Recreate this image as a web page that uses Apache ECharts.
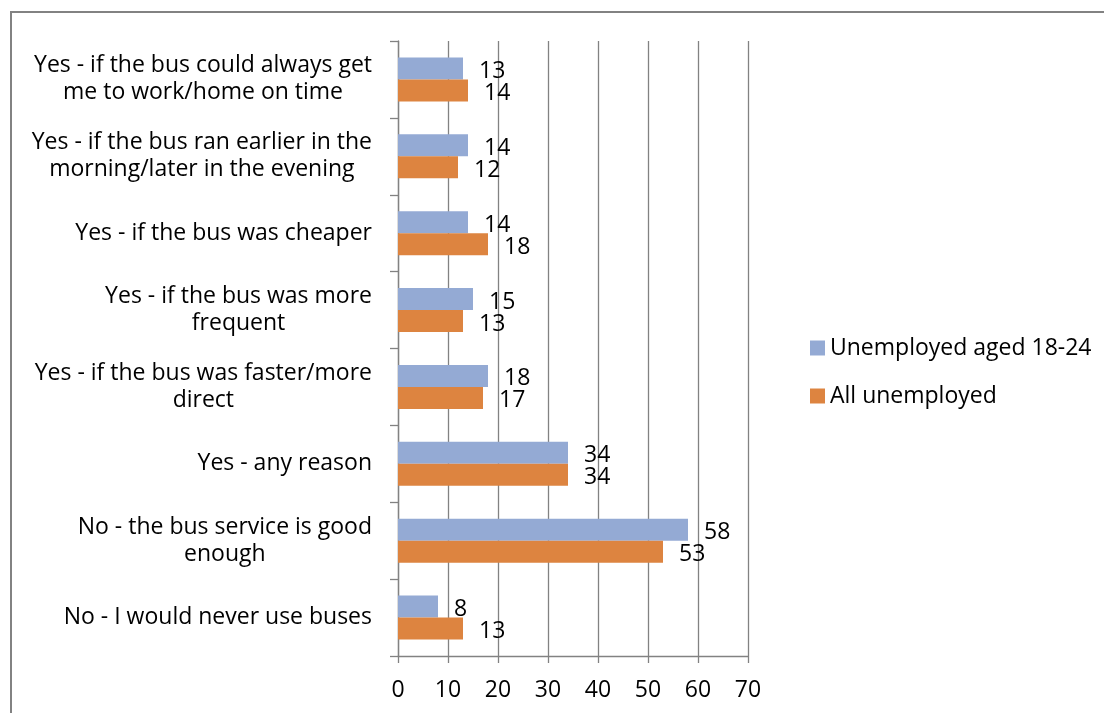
<!DOCTYPE html>
<html>
<head>
<meta charset="utf-8">
<title>Would you use the bus more?</title>
<script src="https://cdn.jsdelivr.net/npm/echarts@6/dist/echarts.min.js"></script>
<style>
  html, body { margin: 0; padding: 0; background: #fff; }
  #chart { width: 1104px; height: 713px; }
</style>
</head>
<body>
<div id="chart"></div>
<script>
// Answer options, listed top to bottom
const categories = [
  'Yes - if the bus could always get\nme to work/home on time',
  'Yes - if the bus ran earlier in the\nmorning/later in the evening',
  'Yes - if the bus was cheaper',
  'Yes - if the bus was more\nfrequent',
  'Yes - if the bus was faster/more\ndirect',
  'Yes - any reason',
  'No - the bus service is good\nenough',
  'No - I would never use buses'
];

const seriesNames = ['Unemployed aged 18-24', 'All unemployed'];

// Percent of respondents
const youngUnemployed = [13, 14, 14, 15, 18, 34, 58, 8];
const allUnemployed = [14, 12, 18, 13, 17, 34, 53, 13];

const xTicks = [0, 10, 20, 30, 40, 50, 60, 70];

const FONT = "'Open Sans', 'Noto Sans', sans-serif";
const GREY = '#828282';
const BLUE = '#94AAD4';
const ORANGE = '#DD8440';

const chart = echarts.init(document.getElementById('chart'));

const labelStyle = {
  show: true,
  position: 'right',
  distance: 16,
  offset: [0, 3],
  color: '#000',
  fontFamily: FONT,
  fontSize: 23
};

chart.setOption({
  animation: false,
  backgroundColor: '#fff',
  textStyle: { fontFamily: FONT },
  graphic: [{
    type: 'rect',
    shape: { x: 11, y: 12, width: 1120, height: 730 },
    style: { fill: 'none', stroke: GREY, lineWidth: 2 },
    silent: true
  }],
  grid: { left: 398, right: 356, top: 41, bottom: 57, containLabel: false },
  legend: {
    orient: 'vertical',
    left: 805,
    top: 331,
    itemWidth: 15,
    itemHeight: 15,
    itemGap: 24,
    icon: 'rect',
    data: seriesNames,
    textStyle: { color: '#000', fontFamily: FONT, fontSize: 23, lineHeight: 24 }
  },
  xAxis: {
    type: 'value',
    min: xTicks[0],
    max: xTicks[xTicks.length - 1],
    interval: xTicks[1] - xTicks[0],
    axisLine: { show: true, lineStyle: { color: GREY, width: 1.3 } },
    axisTick: { show: true, length: 7, lineStyle: { color: GREY, width: 1.3 } },
    splitLine: { show: true, lineStyle: { color: GREY, width: 1.3 } },
    axisLabel: { color: '#000', fontFamily: FONT, fontSize: 23, margin: 23 }
  },
  yAxis: {
    type: 'category',
    inverse: true,
    data: categories,
    axisLine: { show: true, lineStyle: { color: GREY, width: 1.3 } },
    axisTick: { show: true, length: 8, lineStyle: { color: GREY, width: 1.3 } },
    axisLabel: {
      margin: 26,
      align: 'right',
      formatter: function (value) {
        return value.split('\n').map(function (line) { return '{c|' + line + '}'; }).join('\n');
      },
      rich: {
        c: { align: 'center', color: '#000', fontFamily: FONT, fontSize: 23, lineHeight: 27 }
      }
    }
  },
  series: [
    {
      name: seriesNames[0],
      type: 'bar',
      data: youngUnemployed,
      barWidth: 22,
      barGap: '0%',
      itemStyle: { color: BLUE },
      label: labelStyle
    },
    {
      name: seriesNames[1],
      type: 'bar',
      data: allUnemployed,
      barWidth: 22,
      barGap: '0%',
      itemStyle: { color: ORANGE },
      label: labelStyle
    }
  ]
});
</script>
</body>
</html>
